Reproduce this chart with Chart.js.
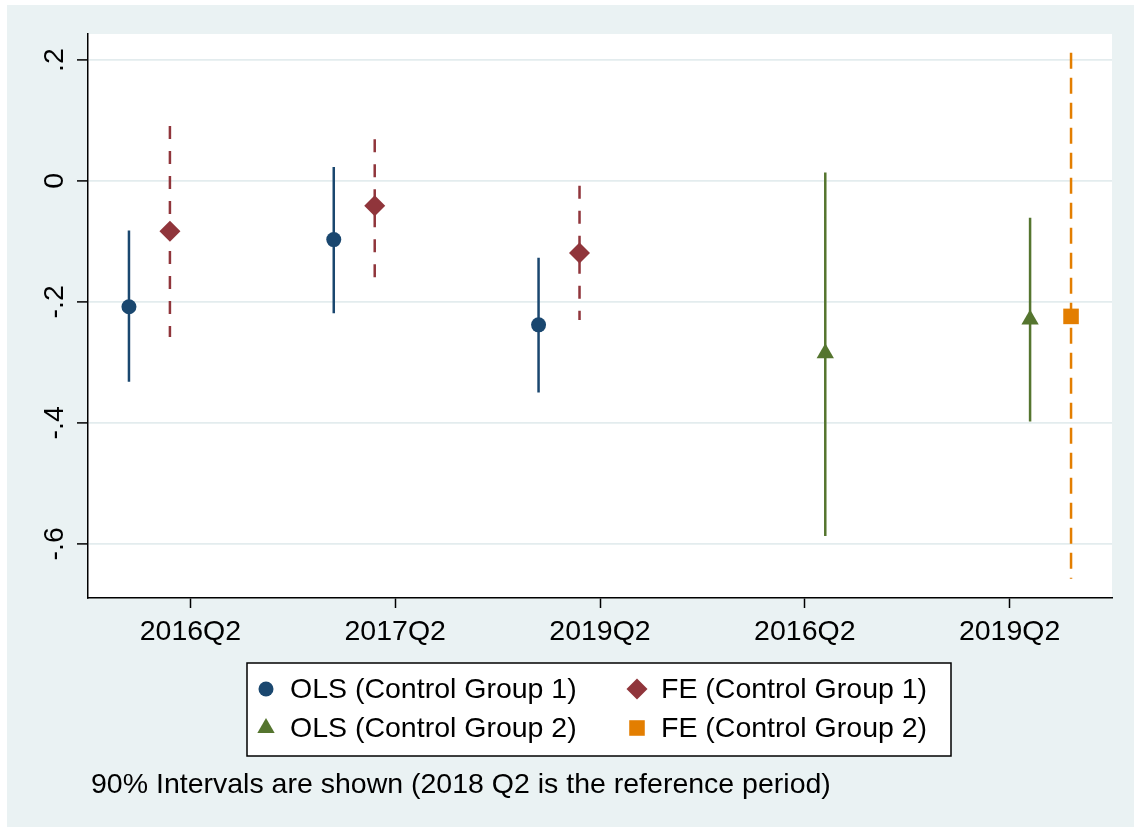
<!DOCTYPE html>
<html>
<head>
<meta charset="utf-8">
<script src="https://cdn.jsdelivr.net/npm/chart.js@4"></script>
<style>
  html, body { margin: 0; padding: 0; background: #ffffff; }
  #wrap { position: absolute; left: 7px; top: 5px; width: 1127px; height: 822px; background: #eaf2f3; }
</style>
</head>
<body>
<div id="wrap"><canvas id="coef" width="1127" height="822"></canvas></div>
<script>
// 係数プロット (90% 信頼区間)

const categories = ['2016Q2', '2017Q2', '2019Q2', '2016Q2', '2019Q2'];
const yTicks = [-0.6, -0.4, -0.2, 0, 0.2];

// OLS (Control Group 1)
const olsCg1Est = [-0.208, -0.097, -0.238, null, null];
const olsCg1Lo  = [-0.332, -0.219, -0.350, null, null];
const olsCg1Hi  = [-0.082,  0.023, -0.127, null, null];

// FE (Control Group 1)
const feCg1Est = [-0.083, -0.041, -0.119, null, null];
const feCg1Lo  = [-0.258, -0.163, -0.230, null, null];
const feCg1Hi  = [ 0.091,  0.069, -0.008, null, null];

// OLS (Control Group 2)
const olsCg2Est = [null, null, null, -0.285, -0.229];
const olsCg2Lo  = [null, null, null, -0.587, -0.398];
const olsCg2Hi  = [null, null, null,  0.014, -0.061];

// FE (Control Group 2)
const feCg2Est = [null, null, null, null, -0.224];
const feCg2Lo  = [null, null, null, null, -0.658];
const feCg2Hi  = [null, null, null, null,  0.212];

const footnote = '90% Intervals are shown (2018 Q2 is the reference period)';

const FONT = "'Liberation Sans', Arial, sans-serif";
const FONT_SIZE = 28.5;
Chart.defaults.font.family = FONT;

const series = [
  { label: 'OLS (Control Group 1)', est: olsCg1Est, lo: olsCg1Lo, hi: olsCg1Hi, offset: -0.3,
    color: '#1a476f', style: 'circle', radius: 7.5, dash: [] },
  { label: 'FE (Control Group 1)', est: feCg1Est, lo: feCg1Lo, hi: feCg1Hi, offset: -0.1,
    color: '#90353b', style: 'rectRot', radius: 10.5, dash: [13, 12] },
  { label: 'OLS (Control Group 2)', est: olsCg2Est, lo: olsCg2Lo, hi: olsCg2Hi, offset: 0.1,
    color: '#55752f', style: 'triangle', radius: 10, dash: [] },
  { label: 'FE (Control Group 2)', est: feCg2Est, lo: feCg2Lo, hi: feCg2Hi, offset: 0.3,
    color: '#e37e00', style: 'rect', radius: 11, dash: [16, 9] }
];

function fmtTick(v) {
  if (Math.abs(v) < 1e-9) return '0';
  return (v < 0 ? '-' : '') + String(Math.abs(v).toFixed(1)).replace(/^0/, '');
}

// データセット作成
const datasets = [];
series.forEach(s => {
  const pts = [];
  const ci = [];
  s.est.forEach((v, i) => {
    if (v === null) return;
    const x = i + 1 + s.offset;
    pts.push({ x: x, y: v });
    ci.push({ x: x, y: s.hi[i] }, { x: x, y: s.lo[i] }, { x: x, y: null });
  });
  datasets.push({
    label: s.label + ' CI',
    data: ci,
    showLine: true,
    spanGaps: false,
    borderColor: s.color,
    borderWidth: 2.5,
    borderDash: s.dash,
    pointRadius: 0,
    order: 1
  });
  datasets.push({
    label: s.label,
    data: pts,
    showLine: false,
    pointStyle: s.style,
    pointRadius: s.radius,
    pointBackgroundColor: s.color,
    pointBorderColor: s.color,
    pointBorderWidth: 0,
    order: 0
  });
});

// プロット領域・縦軸ラベル・凡例・注記
const decorPlugin = {
  id: 'decor',
  beforeDraw(chart) {
    const { ctx, chartArea: a } = chart;
    ctx.save();
    ctx.fillStyle = '#ffffff';
    ctx.fillRect(a.left, a.top, a.right - a.left, a.bottom - a.top);
    ctx.restore();
  },
  afterDraw(chart) {
    const ctx = chart.ctx;
    const ys = chart.scales.y;

    // 縦軸ラベル (回転)
    ctx.save();
    ctx.fillStyle = '#000000';
    ctx.font = FONT_SIZE + 'px ' + FONT;
    ctx.textAlign = 'center';
    ctx.textBaseline = 'alphabetic';
    yTicks.forEach(t => {
      const py = ys.getPixelForValue(t);
      ctx.save();
      ctx.translate(56, py);
      ctx.rotate(-Math.PI / 2);
      ctx.fillText(fmtTick(t), 0, 0);
      ctx.restore();
    });
    ctx.restore();

    // 凡例
    const box = { x: 240, y: 658, w: 704, h: 93 };
    ctx.save();
    ctx.fillStyle = '#ffffff';
    ctx.fillRect(box.x, box.y, box.w, box.h);
    ctx.strokeStyle = '#000000';
    ctx.lineWidth = 1.5;
    ctx.strokeRect(box.x, box.y, box.w, box.h);
    const cols = [259, 630];
    const rows = [684, 723];
    ctx.font = FONT_SIZE + 'px ' + FONT;
    ctx.textBaseline = 'middle';
    ctx.textAlign = 'left';
    series.forEach((s, i) => {
      const cx = cols[i % 2];
      const cy = rows[Math.floor(i / 2)];
      ctx.fillStyle = s.color;
      ctx.strokeStyle = s.color;
      ctx.lineWidth = 0;
      Chart.helpers.drawPoint(ctx, { pointStyle: s.style, radius: s.radius, borderWidth: 0 }, cx, cy);
      ctx.fillStyle = '#000000';
      ctx.fillText(s.label, cx + 24, cy + 1);
    });
    ctx.restore();

    // 注記
    ctx.save();
    ctx.fillStyle = '#000000';
    ctx.font = FONT_SIZE + 'px ' + FONT;
    ctx.textAlign = 'left';
    ctx.textBaseline = 'alphabetic';
    ctx.fillText(footnote, 84, 788);
    ctx.restore();
  }
};

new Chart(document.getElementById('coef').getContext('2d'), {
  type: 'scatter',
  data: { datasets: datasets },
  plugins: [decorPlugin],
  options: {
    responsive: false,
    animation: false,
    layout: { padding: { left: 0, top: 29, right: 22, bottom: 169 } },
    plugins: {
      legend: { display: false },
      tooltip: { enabled: false }
    },
    scales: {
      x: {
        type: 'linear',
        min: 0.5,
        max: 5.5,
        afterBuildTicks: axis => { axis.ticks = categories.map((c, i) => ({ value: i + 1 })); },
        afterFit: axis => { axis.height = 60; },
        ticks: {
          autoSkip: false,
          maxRotation: 0,
          padding: 7,
          color: '#000000',
          font: { size: FONT_SIZE, family: FONT },
          callback: (v) => categories[Math.round(v) - 1]
        },
        grid: {
          drawOnChartArea: false,
          drawTicks: true,
          tickLength: 10,
          tickColor: '#000000',
          tickWidth: 1.5
        },
        border: { color: '#000000', width: 1.5 }
      },
      y: {
        type: 'linear',
        min: -0.6897,
        max: 0.243,
        afterBuildTicks: axis => { axis.ticks = yTicks.map(v => ({ value: v })); },
        afterFit: axis => { axis.width = 81; },
        ticks: { display: false },
        grid: {
          color: '#e3ecee',
          lineWidth: 1.8,
          drawTicks: true,
          tickLength: 11,
          tickColor: '#000000',
          tickWidth: 1.5
        },
        border: { color: '#000000', width: 1.5 }
      }
    }
  }
});
</script>
</body>
</html>
